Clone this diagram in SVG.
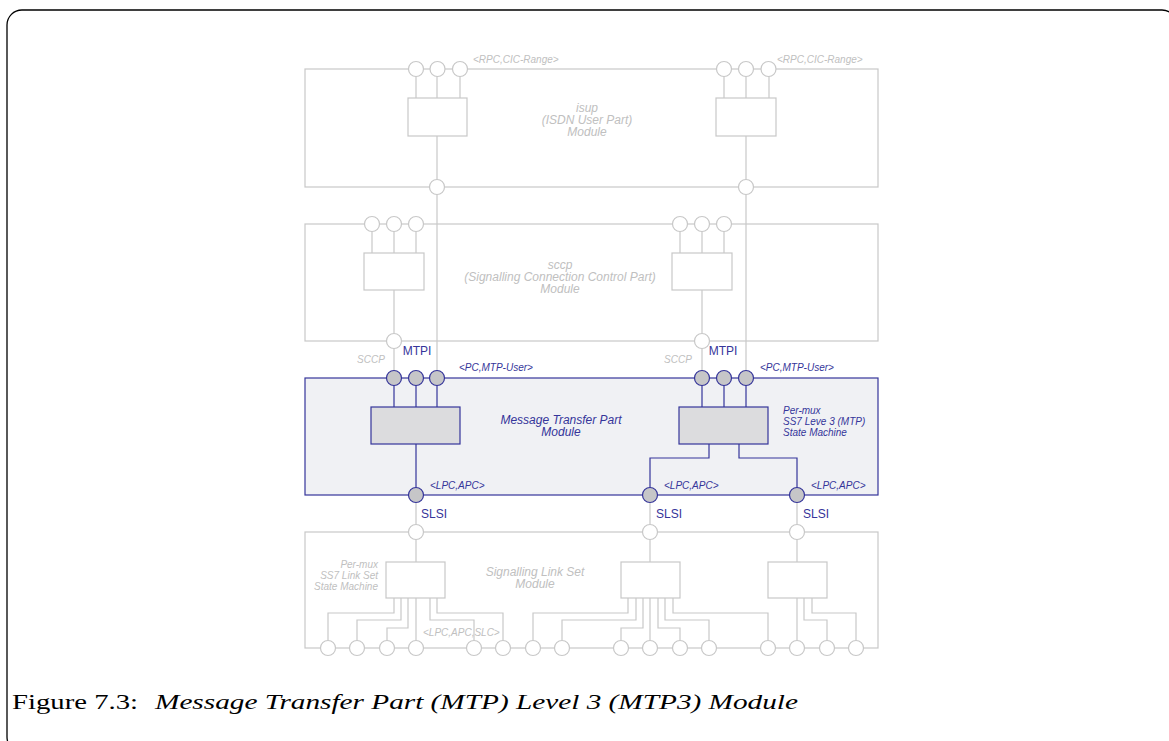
<svg xmlns="http://www.w3.org/2000/svg" width="1169" height="741" viewBox="0 0 1169 741">
<style>
.bg{fill:#ffffff}
.frame{fill:none;stroke:#000;stroke-width:1.3}
.gl{fill:none;stroke:#c8c8c8;stroke-width:1.2}
.gc{fill:#ffffff;stroke:#c8c8c8;stroke-width:1.2}
.nl{fill:none;stroke:#35359a;stroke-width:1.2}
.nm{fill:#f0f1f4;stroke:#35359a;stroke-width:1.2}
.nb{fill:#dcdcde;stroke:#35359a;stroke-width:1.2}
.nc{fill:#c6c6c8;stroke:#35359a;stroke-width:1.2}
.tg{font-family:"Liberation Sans",Arial,sans-serif;font-style:italic;fill:#c0c0c0}
.tn{font-family:"Liberation Sans",Arial,sans-serif;fill:#35359a}
.it{font-style:italic}
.s10{font-size:10px}
.s12{font-size:12px}
.mid{text-anchor:middle}
.end{text-anchor:end}
.cap{font-family:"Liberation Serif","Times New Roman",serif;font-size:22px;fill:#000}
</style>
<rect class="bg" x="0" y="0" width="1169" height="741"/>
<rect class="frame" x="7" y="10" width="1170" height="742" rx="15"/>

<g id="connectors">
<path class="gl" d="M437,187 V378 M746,187 V378 M394,341 V378 M702,341 V378 M416,495 V532 M650,495 V532 M797,495 V532"/>
</g>

<g id="isup">
<rect class="gl" x="305" y="69" width="573" height="118"/>
<rect class="gl" x="408" y="98" width="59" height="38"/>
<rect class="gl" x="716" y="98" width="60" height="38"/>
<path class="gl" d="M416,69 V98 M437,69 V98 M460,69 V98 M437,136 V187 M724,69 V98 M746,69 V98 M769,69 V98 M746,136 V187"/>
<circle class="gc" cx="416" cy="69" r="7.5"/><circle class="gc" cx="437.5" cy="69" r="7.5"/><circle class="gc" cx="460" cy="69" r="7.5"/>
<circle class="gc" cx="724" cy="69" r="7.5"/><circle class="gc" cx="746" cy="69" r="7.5"/><circle class="gc" cx="768.5" cy="69" r="7.5"/>
<circle class="gc" cx="437" cy="187" r="7.5"/><circle class="gc" cx="746" cy="187" r="7.5"/>
<text class="tg s10" x="473" y="62.5">&lt;RPC,CIC-Range&gt;</text>
<text class="tg s10" x="777" y="62.5">&lt;RPC,CIC-Range&gt;</text>
<text class="tg s12 mid" x="587" y="112">isup</text>
<text class="tg s12 mid" x="587" y="124">(ISDN User Part)</text>
<text class="tg s12 mid" x="587" y="136">Module</text>
</g>

<g id="sccp">
<rect class="gl" x="305" y="224" width="573" height="117"/>
<rect class="gl" x="364" y="253" width="60" height="37"/>
<rect class="gl" x="672" y="253" width="60" height="37"/>
<path class="gl" d="M372,224 V253 M394,224 V253 M416,224 V253 M394,290 V341 M680,224 V253 M702,224 V253 M724,224 V253 M702,290 V341"/>
<circle class="gc" cx="372" cy="224" r="7.5"/><circle class="gc" cx="394" cy="224" r="7.5"/><circle class="gc" cx="416" cy="224" r="7.5"/>
<circle class="gc" cx="680" cy="224" r="7.5"/><circle class="gc" cx="702" cy="224" r="7.5"/><circle class="gc" cx="724" cy="224" r="7.5"/>
<circle class="gc" cx="394" cy="341" r="7.5"/><circle class="gc" cx="702" cy="341" r="7.5"/>
<text class="tg s12 mid" x="560" y="269">sccp</text>
<text class="tg s12 mid" x="560" y="281">(Signalling Connection Control Part)</text>
<text class="tg s12 mid" x="560" y="293">Module</text>
<text class="tg s10 mid" x="371" y="363">SCCP</text>
<text class="tg s10 mid" x="678" y="363">SCCP</text>
<text class="tn s12 mid" x="417" y="355">MTPI</text>
<text class="tn s12 mid" x="723" y="355">MTPI</text>
</g>

<g id="mtp">
<rect class="nm" x="305" y="378" width="573" height="117"/>
<rect class="nb" x="371" y="407" width="89" height="37"/>
<rect class="nb" x="679" y="407" width="89" height="37"/>
<path class="nl" d="M394,378 V407 M416,378 V407 M437,378 V407 M416,444 V495 M702,378 V407 M724,378 V407 M746,378 V407 M709,444 V458 H650 V495 M739,444 V458 H797 V495"/>
<circle class="nc" cx="394" cy="378" r="7.5"/><circle class="nc" cx="416" cy="378" r="7.5"/><circle class="nc" cx="437" cy="378" r="7.5"/>
<circle class="nc" cx="702" cy="378" r="7.5"/><circle class="nc" cx="724" cy="378" r="7.5"/><circle class="nc" cx="746" cy="378" r="7.5"/>
<circle class="nc" cx="416" cy="495" r="7.5"/><circle class="nc" cx="650" cy="495" r="7.5"/><circle class="nc" cx="797" cy="495" r="7.5"/>
<text class="tn it s10" x="459" y="371">&lt;PC,MTP-User&gt;</text>
<text class="tn it s10" x="760" y="371">&lt;PC,MTP-User&gt;</text>
<text class="tn it s12 mid" x="561" y="424">Message Transfer Part</text>
<text class="tn it s12 mid" x="561" y="436">Module</text>
<text class="tn it s10" x="783" y="414">Per-mux</text>
<text class="tn it s10" x="783" y="425">SS7 Leve 3 (MTP)</text>
<text class="tn it s10" x="783" y="436">State Machine</text>
<text class="tn it s10" x="430" y="489">&lt;LPC,APC&gt;</text>
<text class="tn it s10" x="664" y="489">&lt;LPC,APC&gt;</text>
<text class="tn it s10" x="811" y="489">&lt;LPC,APC&gt;</text>
<text class="tn s12 mid" x="434" y="518">SLSI</text>
<text class="tn s12 mid" x="669" y="518">SLSI</text>
<text class="tn s12 mid" x="816" y="518">SLSI</text>
</g>

<g id="sls">
<rect class="gl" x="305" y="532" width="573" height="116"/>
<rect class="gl" x="386" y="562" width="59" height="36"/>
<rect class="gl" x="621" y="562" width="59" height="36"/>
<rect class="gl" x="768" y="562" width="59" height="36"/>
<path class="gl" d="M416,532 V562 M650,532 V562 M797,532 V562
M394,598 V613 H328 V648 M401,598 V620 H357 V648 M408,598 V628 H387 V648 M416,598 V648 M430,598 V620 H474 V648 M437,598 V613 H503 V648
M628,598 V613 H533 V648 M636,598 V620 H562 V648 M643,598 V628 H621 V648 M650,598 V648 M658,598 V628 H680 V648 M665,598 V620 H709 V648 M673,598 V613 H768 V648
M797,598 V648 M804,598 V620 H827 V648 M812,598 V613 H856 V648"/>
<circle class="gc" cx="416" cy="532" r="7.5"/><circle class="gc" cx="650" cy="532" r="7.5"/><circle class="gc" cx="797" cy="532" r="7.5"/>
<circle class="gc" cx="328" cy="648" r="7.5"/><circle class="gc" cx="357" cy="648" r="7.5"/><circle class="gc" cx="387" cy="648" r="7.5"/><circle class="gc" cx="416" cy="648" r="7.5"/>
<circle class="gc" cx="474" cy="648" r="7.5"/><circle class="gc" cx="503" cy="648" r="7.5"/><circle class="gc" cx="533" cy="648" r="7.5"/><circle class="gc" cx="562" cy="648" r="7.5"/>
<circle class="gc" cx="621" cy="648" r="7.5"/><circle class="gc" cx="650" cy="648" r="7.5"/><circle class="gc" cx="680" cy="648" r="7.5"/><circle class="gc" cx="709" cy="648" r="7.5"/>
<circle class="gc" cx="768" cy="648" r="7.5"/><circle class="gc" cx="797" cy="648" r="7.5"/><circle class="gc" cx="827" cy="648" r="7.5"/><circle class="gc" cx="856" cy="648" r="7.5"/>
<text class="tg s10 end" x="378" y="568">Per-mux</text>
<text class="tg s10 end" x="378" y="579">SS7 Link Set</text>
<text class="tg s10 end" x="378" y="590">State Machine</text>
<text class="tg s12 mid" x="535" y="576">Signalling Link Set</text>
<text class="tg s12 mid" x="535" y="588">Module</text>
<text class="tg s10" x="423" y="636">&lt;LPC,APC,SLC&gt;</text>
</g>

<text class="cap" x="12" y="709" textLength="126" lengthAdjust="spacingAndGlyphs">Figure 7.3:</text>
<text class="cap" x="155" y="709" font-style="italic" textLength="643" lengthAdjust="spacingAndGlyphs">Message Transfer Part (MTP) Level 3 (MTP3) Module</text>
</svg>
